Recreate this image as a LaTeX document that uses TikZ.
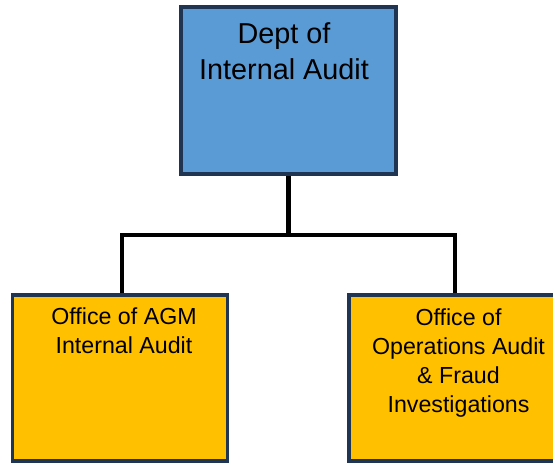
\documentclass[tikz,border=0pt]{standalone}
\usepackage{fontspec}
\setmainfont{Liberation Sans}
\definecolor{bordernavy}{HTML}{1F3551}
\definecolor{deptblue}{HTML}{5B9BD5}
\definecolor{officegold}{HTML}{FFC000}
\begin{document}
\begin{tikzpicture}[x=1pt,y=-1pt,
  orgbox/.style={draw=bordernavy, line width=3.5pt, inner sep=0pt, rectangle},
  linkline/.style={draw=black, line width=4.5pt},
  toptext/.style={inner sep=0pt, align=center, anchor=north, font=\fontsize{28.8}{36}\selectfont},
  subtext/.style={inner sep=0pt, align=center, anchor=north, font=\fontsize{23.2}{29}\selectfont}]
\useasboundingbox (0,0) rectangle (553,463);
\begin{scope}
\clip (0,0) rectangle (553,463);
\node[orgbox, fill=deptblue, minimum width=215pt, minimum height=167pt] (top) at (288.5,90.5) {};
\node[orgbox, fill=officegold, minimum width=215pt, minimum height=166pt] (left) at (120,378) {};
\node[orgbox, fill=officegold, minimum width=215pt, minimum height=166pt] (right) at (456.5,378) {};
\end{scope}
\node[toptext] (toplabel) at (284,22.5) {Dept of\\Internal Audit};
\node[subtext] (leftlabel) at (124,307) {Office of AGM\\Internal Audit};
\node[subtext] (rightlabel) at (458.5,308) {Office of\\Operations Audit\\\& Fraud\\Investigations};
\coordinate (mid) at (288.5,235);
\draw[linkline] (top.south) -- (mid);
\draw[linkline, line join=miter] ([xshift=2pt]left.north) |- (mid) -| ([xshift=-1.5pt]right.north);
\end{tikzpicture}
\end{document}
